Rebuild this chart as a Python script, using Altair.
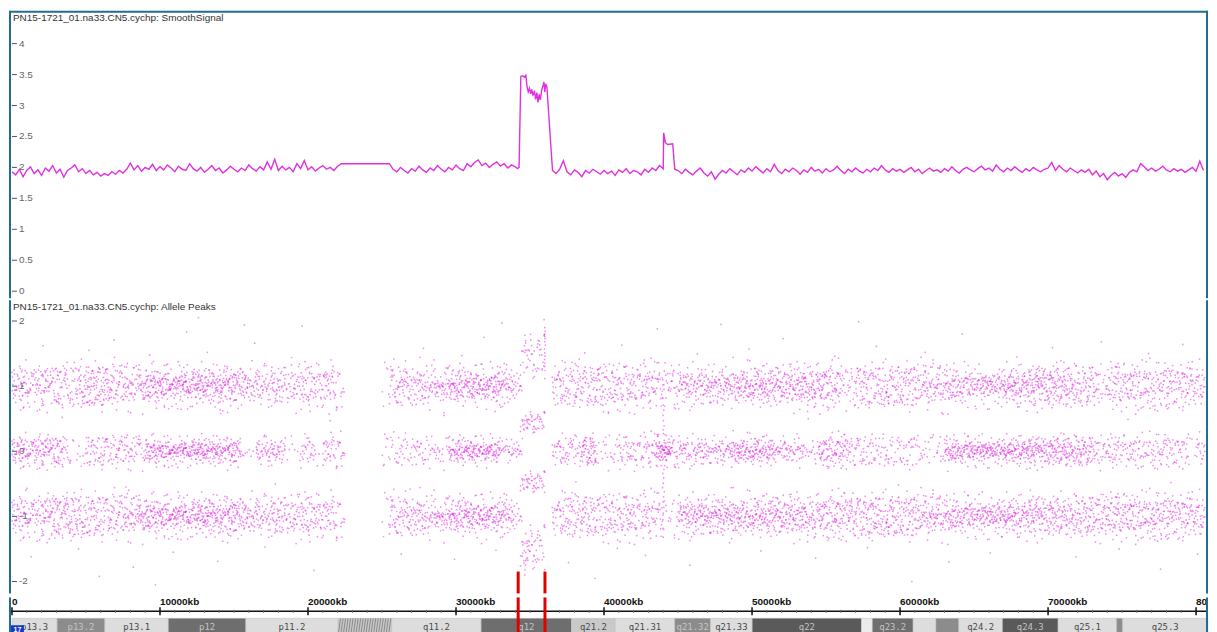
import altair as alt
import pandas as pd

# ---------------- layout / style constants ----------------
W = 1206
HA, HB, HC = 289, 295, 40
X_DOMAIN = [-201.5, 80806]
YA_DOMAIN = [-0.1124, 4.5301]
YB_DOMAIN = [-2.1832, 2.3206]
LINE_COLOR = "#e030e0"
DOT_COLOR = "#e020e0"
FRAME = "#1f6e8c"
FONT = "Liberation Sans"

# ---------------- SmoothSignal data ----------------
SIG_STEP = 250
sig_seg1_start = 0
sig_seg1 = [1.93, 1.88, 1.97, 1.85, 1.95, 2.01, 1.90, 1.96, 1.87, 1.99,
            1.94, 2.03, 1.91, 1.97, 1.84, 1.95, 1.99, 2.04, 1.93, 1.98,
            1.90, 1.95, 1.88, 1.92, 1.86, 1.90, 1.87, 1.93, 1.89, 1.95,
            1.91, 1.97, 2.07, 1.96, 2.03, 1.94, 2.00, 1.97, 2.05, 1.95,
            2.01, 1.96, 2.04, 1.99, 1.93, 2.02, 1.97, 1.95, 2.06, 1.98,
            1.94, 2.00, 1.92, 1.97, 2.03, 1.95, 1.99, 1.91, 1.96, 2.02,
            1.97, 1.93, 1.99, 1.95, 2.04, 1.98, 1.94, 2.01, 1.96, 2.09,
            1.97, 2.13, 1.95, 2.02, 1.96, 2.00, 1.93, 2.06, 1.98, 2.11,
            1.96, 2.01, 1.94, 1.99, 2.03, 1.97, 2.00, 1.95, 2.02, 2.06]
sig_seg2_start = 25500
sig_seg2 = [2.06, 1.97, 1.93, 2.00, 1.95, 1.91, 1.98, 1.94, 2.02, 1.96,
            1.92, 1.99, 1.95, 2.03, 1.97, 1.93, 2.00, 1.96, 2.04, 1.98,
            1.95, 2.06, 2.01, 2.08, 2.12, 2.03, 2.07, 2.00, 2.05, 2.09,
            2.02, 2.06, 1.99, 2.04, 2.01]
gain_kb = [34150, 34260, 34380, 34500, 34620, 34720, 34800, 34880, 34960, 35040,
           35120, 35200, 35300, 35380, 35460, 35540, 35620, 35700, 35780, 35860,
           35940, 36000, 36060, 36140, 36520]
gain_val = [1.98, 2.00, 3.47, 3.48, 3.46, 3.49, 3.30, 3.22, 3.28, 3.19,
            3.26, 3.16, 3.24, 3.10, 3.21, 3.05, 3.18, 3.09, 3.24, 3.31,
            3.38, 3.22, 3.35, 3.30, 1.95]
sig_seg3_start = 36750
sig_seg3 = [1.90, 1.97, 2.11, 1.93, 1.88, 1.96, 1.92, 1.85, 1.95, 1.91,
            1.97, 1.93, 1.89, 1.95, 1.90, 1.94, 1.87, 1.96, 1.92, 1.98,
            1.90, 1.95, 1.93, 1.88, 1.97, 1.92, 1.99, 1.95, 2.03, 1.98]
spike_kb = [44030, 44150, 44300, 44640, 44780]
spike_val = [2.56, 2.40, 2.37, 2.38, 1.97]
sig_seg4_start = 45000
sig_seg4 = [1.95, 1.90, 1.97, 1.92, 1.88, 1.94, 1.99, 1.91, 1.86, 1.93,
            1.81, 1.89, 1.95, 1.91, 1.98, 1.93, 1.88, 1.96, 1.92, 1.99,
            1.94, 2.01, 1.96, 1.91, 1.98, 1.93, 2.05, 1.95, 1.90, 1.97,
            1.93, 1.99, 1.95, 1.89, 1.96, 1.92, 2.00, 1.94, 1.97, 1.91,
            1.98, 1.93, 1.96, 2.02, 1.95, 1.90, 1.97, 1.93, 1.99, 1.94,
            1.91, 1.97, 1.93, 1.99, 1.95, 2.03, 1.96, 1.92, 1.98, 1.94,
            1.97, 1.92, 1.96, 2.00, 1.93, 1.97, 1.90, 1.95, 1.99, 1.94,
            1.96, 1.92, 1.98, 1.94, 2.01, 1.95, 1.91, 1.97, 2.00, 1.96,
            1.93, 1.98, 2.02, 1.96, 1.99, 1.94, 2.04, 1.97, 1.93, 1.99,
            1.95, 2.01, 1.96, 1.92, 1.98, 1.94, 2.00, 1.96, 1.93, 1.97,
            1.99, 2.08, 1.95, 2.03, 1.97, 1.93, 1.99, 1.95, 1.91, 1.96,
            1.92, 1.97, 1.88, 1.94, 1.85, 1.90, 1.80, 1.87, 1.92, 1.86,
            1.90, 1.84, 1.92, 1.96, 1.93, 2.06, 2.01, 1.95, 1.99, 1.94,
            1.97, 2.02, 1.96, 1.93, 1.98, 1.94, 1.97, 1.92, 1.96, 2.00,
            1.94, 2.10, 1.95]

# ---------------- Allele Peaks data ----------------
BIN_KB = 500
DENSITY = 1.5
band_centers = [1.0, 0.0, -1.0]
band_spreads = [0.46, 0.33, 0.46]
counts_plus1 = [15, 17, 14, 16, 18, 15, 16, 13, 14, 19,
                21, 20, 22, 18, 16, 17, 15, 19, 23, 24,
                25, 22, 24, 26, 23, 25, 22, 24, 26, 23,
                21, 17, 15, 16, 14, 17, 15, 12, 14, 16,
                15, 13, 16, 14, 7, 0, 0, 0, 0, 0,
                4, 15, 17, 16, 14, 17, 15, 16, 18, 22,
                24, 21, 25, 23, 22, 26, 20, 15, 8, 0,
                0, 0, 0, 13, 16, 15, 17, 14, 16, 18,
                15, 17, 14, 16, 15, 17, 16, 13, 9, 12,
                17, 19, 16, 18, 20, 17, 19, 18, 21, 23,
                22, 24, 21, 23, 20, 22, 24, 21, 23, 22,
                20, 18, 10, 9, 16, 18, 15, 17, 19, 16,
                18, 17, 15, 19, 16, 17, 18, 20, 17, 19,
                18, 21, 19, 17, 22, 24, 21, 23, 25, 22,
                24, 21, 23, 18, 16, 17, 15, 8, 15, 17,
                16, 18, 15, 17, 14, 16, 18, 15, 17, 16,
                15, 8]
counts_zero = [17, 19, 16, 18, 20, 17, 18, 8, 3, 4,
               12, 11, 14, 10, 13, 12, 11, 9, 19, 21,
               20, 23, 19, 22, 21, 24, 20, 22, 19, 21,
               18, 3, 2, 13, 15, 14, 12, 3, 2, 10,
               9, 2, 12, 11, 10, 0, 0, 0, 0, 0,
               5, 6, 8, 7, 9, 8, 7, 8, 5, 19,
               21, 20, 22, 19, 21, 20, 8, 10, 9, 0,
               0, 0, 0, 10, 12, 11, 10, 20, 22, 4,
               6, 5, 11, 12, 10, 11, 12, 28, 32, 13,
               14, 12, 13, 15, 12, 14, 13, 19, 21, 20,
               22, 19, 20, 12, 13, 11, 12, 5, 6, 18,
               19, 17, 18, 10, 11, 9, 10, 8, 9, 7,
               8, 9, 7, 5, 4, 6, 20, 22, 19, 21,
               20, 23, 21, 19, 22, 20, 21, 24, 20, 19,
               21, 20, 22, 19, 20, 18, 11, 10, 12, 11,
               10, 12, 11, 9, 11, 12, 10, 11, 10, 3,
               10, 6]
counts_minus1 = [16, 18, 17, 15, 20, 22, 19, 21, 20, 17,
                 16, 18, 15, 17, 16, 19, 18, 22, 24, 23,
                 25, 23, 26, 24, 22, 25, 27, 24, 23, 25,
                 22, 18, 16, 17, 15, 18, 16, 14, 16, 17,
                 15, 16, 14, 15, 8, 0, 0, 0, 0, 0,
                 4, 16, 15, 17, 16, 18, 15, 17, 19, 22,
                 23, 24, 22, 25, 23, 21, 22, 15, 7, 0,
                 0, 0, 0, 12, 16, 17, 15, 18, 16, 14,
                 17, 15, 16, 18, 14, 16, 15, 13, 4, 5,
                 20, 22, 21, 23, 22, 24, 21, 23, 22, 20,
                 23, 21, 22, 24, 20, 22, 21, 19, 18, 20,
                 19, 21, 18, 20, 17, 19, 21, 18, 20, 19,
                 17, 20, 18, 19, 21, 18, 20, 22, 19, 21,
                 20, 22, 23, 21, 24, 22, 20, 23, 21, 19,
                 21, 20, 18, 19, 17, 20, 18, 19, 17, 20,
                 18, 20, 17, 19, 21, 18, 20, 17, 19, 18,
                 16, 8]
# within-bin scatter offsets read as typical spread (fractions)
jit_x = [0.03, 0.51, 0.27, 0.84, 0.12, 0.66, 0.39, 0.93, 0.18, 0.72, 0.45,
         0.07, 0.59, 0.31, 0.88, 0.22, 0.77, 0.48, 0.01, 0.63, 0.35, 0.97,
         0.14, 0.69, 0.42, 0.81, 0.25, 0.56, 0.09, 0.74, 0.37, 0.91, 0.20,
         0.61, 0.05, 0.79, 0.29, 0.53, 0.16, 0.86, 0.44]
jit_y = [0.05, -0.32, 0.61, -0.12, 0.24, -0.71, 0.38, -0.02, 0.15, -0.45,
         0.83, -0.21, 0.09, -0.58, 0.29, -0.07, 0.47, -0.93, 0.18, -0.27,
         0.67, -0.14, 0.02, -0.39, 0.54, -0.64, 0.11, -0.19, 0.35, -0.85,
         0.21, -0.05, 0.74, -0.33, 0.42, -0.52, 0.97]
jit_y2 = [-0.47, 0.13, 0.88, -0.26, 0.51, -0.79, 0.06, 0.34, -0.61, 0.72,
          -0.09, 0.23, -0.94, 0.57, -0.38, 0.95, -0.16, 0.41, -0.70, 0.28,
          -0.55, 0.64, -0.03, 0.19, -0.87, 0.46, -0.31, 0.79, -0.12]
# gained segment clusters
GAIN_START, GAIN_BIN = 34350, 420
gain_centers = [1.45, 0.44, -0.47, -1.48]
gain_spreads = [0.50, 0.24, 0.24, 0.50]
gain_counts = [[9, 12, 13, 14], [12, 15, 14, 11], [11, 14, 15, 12], [14, 17, 15, 12]]
streak_kb = [35950, 36000, 36020, 35980, 36010, 35990, 36030, 35970, 36000, 36015,
             35985, 36005, 35995, 36025, 34650, 34700, 34620, 34680, 34660, 34640,
             34690, 34710,
             43950, 44000, 44040, 43980, 44020, 44060, 43990, 44010, 44050, 43970,
             44030, 44000, 43960, 44070, 44020, 43990, 44040, 44010, 43980, 44030,
             44000, 44050, 43970]
streak_v = [2.02, 1.90, 1.84, 1.79, 1.73, 1.68, 1.63, 1.57, 1.51, 1.46,
            1.41, 1.35, 1.30, 1.24, 1.78, 1.70, 1.62, 1.55, -1.82, -1.90,
            -1.75, -1.68,
            0.82, 0.71, 0.63, 0.55, 0.47, 0.39, 0.33, 0.27, -0.28, -0.34,
            -0.41, -0.49, -0.56, -0.62, -0.70, -0.78, -0.86, -0.95, -1.05, -1.20,
            -1.32, 0.95, 1.10]
out_kb = [2100, 5200, 6900, 9300, 11800, 13200, 16400, 18900, 19600, 27800,
          30400, 31900, 38700, 41200, 43600, 46300, 49800, 52100, 55600, 58400,
          61700, 64200, 67900, 70300, 73600, 76800, 79100, 12600, 33100, 47900,
          15700, 57200,
          3400, 14100, 21500, 29200, 40300, 53800, 62900, 75400,
          7700, 17800, 26900, 38100, 48600, 59900, 68800, 78300,
          1300, 4500, 8200, 10900, 13900, 17100, 20400, 26300, 29900, 32700,
          37600, 40900, 42800, 45800, 50600, 54300, 57800, 63300, 66100, 71900,
          74800, 77600, 80100, 9700, 39400, 60800, 5900]
out_v = [1.62, 1.55, 1.71, 1.48, 1.83, 1.52, 1.66, 1.44, 1.92, 1.58,
         1.47, 1.75, 1.51, 1.63, 1.88, 1.49, 1.57, 1.73, 1.46, 1.61,
         1.52, 1.80, 1.45, 1.59, 1.68, 1.50, 1.64, 2.05, 1.97, 1.95,
         1.94, 1.99,
         0.52, 0.58, 0.47, 0.55, 0.60, 0.50, 0.57, 0.49,
         -0.55, -0.50, -0.58, -0.47, -0.56, -0.52, -0.60, -0.48,
         -1.62, -1.50, -1.78, -1.55, -1.69, -1.47, -1.83, -1.58, -1.66, -1.52,
         -1.71, -1.49, -1.60, -1.75, -1.53, -1.64, -1.48, -1.70, -1.56, -1.62,
         -1.50, -1.81, -1.58, -2.05, -1.95, -2.00, -1.92]

# ---------------- axes / ruler / cytoband ----------------
ticksA = [4, 3.5, 3, 2.5, 2, 1.5, 1, 0.5, 0]
ticksA_lab = ["4", "3.5", "3", "2.5", "2", "1.5", "1", "0.5", "0"]
ticksB = [2, 1, 0, -1, -2]
ticksB_lab = ["2", "1", "0", "-1", "-2"]
ruler_kb = [0, 10000, 20000, 30000, 40000, 50000, 60000, 70000, 80000]
ruler_lab = ["0", "10000kb", "20000kb", "30000kb", "40000kb", "50000kb",
             "60000kb", "70000kb", "80000kb"]
minor_kb = list(range(0, 81000, 1000))
marker_kb = [34200, 36010]
cyto_start = [0, 3052, 6273, 10566, 15799, 22037, 25660, 31698, 37803, 40755,
              44781, 47196, 50013, 57393, 58131, 60882, 62425, 63968, 66920,
              70677, 74635, 75038]
cyto_end = cyto_start[1:] + [80800]
cyto_name = ["p13.3", "p13.2", "p13.1", "p12", "p11.2", "", "q11.2", "q12",
             "q21.2", "q21.31", "q21.32", "q21.33", "q22", "", "q23.2", "", "",
             "q24.2", "q24.3", "q25.1", "", "q25.3"]
cyto_stain = ["gneg", "gpos50", "gneg", "gpos75", "gneg", "acen", "gneg", "gpos75",
              "gpos25", "gneg", "gpos50", "gneg", "gpos100", "gwhite", "gpos75",
              "gneg", "gpos50", "gneg", "gpos100", "gneg", "gpos50", "gneg"]
stain_domain = ["gwhite", "gneg", "gpos25", "gpos50", "gpos75", "gpos100", "acen"]
stain_range = ["#ececec", "#dddddd", "#c9c9c9", "#8c8c8c", "#6e6e6e", "#5a5a5a", "#c8c8c8"]

# ---------------- build tables ----------------
def seg(start, vals):
    return [start + SIG_STEP * i for i in range(len(vals))], list(vals)

kb_all, v_all = [], []
for part in [seg(sig_seg1_start, sig_seg1), seg(sig_seg2_start, sig_seg2),
             (gain_kb, gain_val), seg(sig_seg3_start, sig_seg3),
             (spike_kb, spike_val), seg(sig_seg4_start, sig_seg4)]:
    kb_all += part[0]
    v_all += part[1]
sig_df = pd.DataFrame({"kb": kb_all, "v": v_all})
sig_df = sig_df[sig_df.kb <= 80600]


def offset(a, b):
    return 0.62 * jit_y[a % len(jit_y)] + 0.38 * jit_y2[b % len(jit_y2)]


pts = []
for center, spread, counts in zip(band_centers, band_spreads,
                                  [counts_plus1, counts_zero, counts_minus1]):
    for i, n in enumerate(counts):
        for j in range(int(round(n * DENSITY))):
            kb = i * BIN_KB + jit_x[(i * 17 + j) % len(jit_x)] * BIN_KB
            v = center + spread * offset(i * 11 + j * 5, i * 7 + j * 3)
            if kb <= 80600:
                pts.append((round(kb, 1), round(v, 3)))
for center, spread, counts in zip(gain_centers, gain_spreads, gain_counts):
    for i, n in enumerate(counts):
        for j in range(n):
            kb = GAIN_START + i * GAIN_BIN + jit_x[(i * 13 + j * 3) % len(jit_x)] * GAIN_BIN
            v = center + spread * offset(i * 7 + j * 5 + 3, i * 5 + j * 2)
            pts.append((round(kb, 1), round(v, 3)))
pts += list(zip(streak_kb, streak_v))
pts += list(zip(out_kb, out_v))
ap_df = pd.DataFrame(pts, columns=["kb", "v"])

cyto_df = pd.DataFrame({"s": cyto_start, "e": cyto_end, "name": cyto_name,
                        "stain": cyto_stain})

xs = alt.Scale(domain=X_DOMAIN, nice=False, zero=False)
ysA = alt.Scale(domain=YA_DOMAIN, nice=False, zero=False)
ysB = alt.Scale(domain=YB_DOMAIN, nice=False, zero=False)
one = pd.DataFrame({"a": [0]})


def frame_lr(h):
    left = alt.Chart(one).mark_rule(color=FRAME, strokeWidth=2).encode(
        x=alt.value(1), y=alt.value(0), y2=alt.value(h))
    right = alt.Chart(one).mark_rule(color=FRAME, strokeWidth=2).encode(
        x=alt.value(W - 1), y=alt.value(0), y2=alt.value(h))
    return [left, right]


def yticks(vals, labs, scale):
    df = pd.DataFrame({"v": vals, "lab": labs})
    base = alt.Chart(df)
    r = base.mark_rule(color="#555555", strokeWidth=1).encode(
        y=alt.Y("v:Q", scale=scale, axis=None), x=alt.value(3), x2=alt.value(8))
    t = base.mark_text(align="left", baseline="middle", font=FONT, fontSize=10,
                       color="#666666").encode(
        y=alt.Y("v:Q", scale=scale, axis=None), x=alt.value(10), text="lab:N")
    return [r, t]


def title(txt):
    return alt.Chart(one).mark_text(align="left", baseline="middle", font=FONT,
                                    fontSize=10, color="#333333", text=txt).encode(
        x=alt.value(4), y=alt.value(7))


# ---- panel A: smooth signal ----
lineA = alt.Chart(sig_df).mark_line(color=LINE_COLOR, strokeWidth=1.4, clip=True).encode(
    x=alt.X("kb:Q", scale=xs, axis=None),
    y=alt.Y("v:Q", scale=ysA, axis=None))
topA = alt.Chart(one).mark_rule(color=FRAME, strokeWidth=2).encode(
    x=alt.value(0), x2=alt.value(W), y=alt.value(1))
panelA = alt.layer(*yticks(ticksA, ticksA_lab, ysA), title(
    "PN15-1721_01.na33.CN5.cychp: SmoothSignal"), lineA, topA, *frame_lr(HA)
).properties(width=W, height=HA)

# ---- panel B: allele peaks ----
dots = alt.Chart(ap_df).mark_circle(color=DOT_COLOR, size=3, opacity=0.5, clip=True).encode(
    x=alt.X("kb:Q", scale=xs, axis=None),
    y=alt.Y("v:Q", scale=ysB, axis=None))
redB = alt.Chart(pd.DataFrame({"kb": marker_kb})).mark_rule(
    color="#e00000", strokeWidth=3).encode(
    x=alt.X("kb:Q", scale=xs, axis=None), y=alt.value(273), y2=alt.value(HB))
panelB = alt.layer(*yticks(ticksB, ticksB_lab, ysB), title(
    "PN15-1721_01.na33.CN5.cychp: Allele Peaks"), dots, redB, *frame_lr(HB)
).properties(width=W, height=HB)

# ---- panel C: ruler + cytoband ----
cyto = alt.Chart(cyto_df).mark_rect(stroke="#bdbdbd", strokeWidth=0.5).encode(
    x=alt.X("s:Q", scale=xs, axis=None), x2="e:Q",
    y=alt.value(21), y2=alt.value(38),
    color=alt.Color("stain:N", scale=alt.Scale(domain=stain_domain, range=stain_range),
                    legend=None))
hatch = alt.Chart(alt.sequence(22037, 25500, 170, as_="h")).transform_calculate(
    h2="datum.h + 160").mark_rule(color="#7a7a7a", strokeWidth=0.8).encode(
    x=alt.X("h2:Q", scale=xs, axis=None), x2="h:Q",
    y=alt.value(21), y2=alt.value(38))
cyto_lab = alt.Chart(cyto_df).transform_filter("datum.name != ''").transform_calculate(
    mid="(datum.s + datum.e) / 2").mark_text(
    font="DejaVu Sans Mono", fontSize=9, baseline="middle", clip=True).encode(
    x=alt.X("mid:Q", scale=xs, axis=None), y=alt.value(30), text="name:N",
    color=alt.condition("datum.stain == 'gpos75' || datum.stain == 'gpos100' || datum.stain == 'gpos50'",
                        alt.value("#c4c4c4"), alt.value("#4a4a4a")))
badge = alt.Chart(one).mark_rect(color="#1438c8").encode(
    x=alt.value(2), x2=alt.value(15), y=alt.value(28), y2=alt.value(38))
badge_t = alt.Chart(one).mark_text(text="17", color="white", fontSize=7, font=FONT,
                                   fontWeight="bold", baseline="middle").encode(
    x=alt.value(8.5), y=alt.value(33))
axis_line = alt.Chart(one).mark_rule(color="#111111", strokeWidth=1.5).encode(
    x=alt.value(2), x2=alt.value(W - 2), y=alt.value(14))
minor = alt.Chart(pd.DataFrame({"kb": minor_kb})).mark_rule(
    color="#666666", strokeWidth=1, clip=True).encode(
    x=alt.X("kb:Q", scale=xs, axis=None), y=alt.value(12.5), y2=alt.value(15.5))
major_df = pd.DataFrame({"kb": ruler_kb, "lab": ruler_lab})
major = alt.Chart(major_df).mark_rule(color="#111111", strokeWidth=1.5, clip=True).encode(
    x=alt.X("kb:Q", scale=xs, axis=None), y=alt.value(10), y2=alt.value(18))
major_t = alt.Chart(major_df).mark_text(
    align="left", baseline="middle", font=FONT, fontSize=10, fontWeight="bold",
    color="#111111", clip=True).encode(
    x=alt.X("kb:Q", scale=xs, axis=None), y=alt.value(5), text="lab:N")
redC = alt.Chart(pd.DataFrame({"kb": marker_kb})).mark_rule(
    color="#e00000", strokeWidth=3).encode(
    x=alt.X("kb:Q", scale=xs, axis=None), y=alt.value(0), y2=alt.value(HC))
bottomC = alt.Chart(one).mark_rule(color=FRAME, strokeWidth=2).encode(
    x=alt.value(0), x2=alt.value(W), y=alt.value(HC - 1))
panelC = alt.layer(cyto, hatch, cyto_lab, badge, badge_t, axis_line, minor, major,
                   major_t, redC, bottomC, *frame_lr(HC)).properties(width=W, height=HC)

chart = alt.vconcat(panelA, panelB, panelC, spacing=0).properties(
    padding=0, background="white"
).configure_view(stroke=None)

chart.save("out.html", embed_options={"renderer": "svg", "actions": False})
